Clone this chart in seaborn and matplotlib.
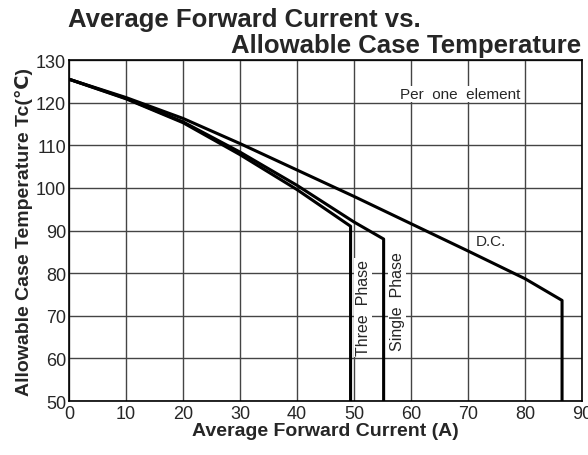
"""Average forward current vs. allowable case temperature derating chart."""

import matplotlib.pyplot as plt
import pandas as pd
import seaborn as sns

# Curve data (current in A, case temperature in degC)
dc_current = [0, 10, 20, 30, 40, 50, 60, 70, 80, 86.5, 86.5]
dc_temp = [125.5, 121.2, 116.3, 110.4, 104.2, 98.0, 91.6, 85.2, 78.7, 73.6, 50]

single_current = [0, 10, 20, 30, 40, 50, 55.2, 55.2]
single_temp = [125.5, 121.0, 115.5, 108.4, 100.6, 92.0, 88.0, 50]

three_current = [0, 10, 20, 30, 40, 49.4, 49.4]
three_temp = [125.5, 120.9, 115.3, 107.8, 99.6, 91.0, 50]

x_ticks = [0, 10, 20, 30, 40, 50, 60, 70, 80, 90]
y_ticks = [50, 60, 70, 80, 90, 100, 110, 120, 130]

sns.set_style("white")
plt.rcParams["font.family"] = ["Liberation Sans", "DejaVu Sans"]


def build_frame() -> pd.DataFrame:
    parts = []
    for name, xs, ys in [
        ("D.C.", dc_current, dc_temp),
        ("Single Phase", single_current, single_temp),
        ("Three Phase", three_current, three_temp),
    ]:
        parts.append(pd.DataFrame({"current": xs, "temp": ys, "curve": name}))
    return pd.concat(parts, ignore_index=True)


def main() -> None:
    df = build_frame()

    fig = plt.figure(figsize=(5.88, 4.56), dpi=100)
    ax = fig.add_axes([0.1173, 0.1184, 0.8725, 0.7478])

    for name, grp in df.groupby("curve", sort=False):
        sns.lineplot(
            data=grp, x="current", y="temp", sort=False, estimator=None,
            color="black", linewidth=2.2, ax=ax, legend=False,
        )

    ax.set_xlim(0, 90)
    ax.set_ylim(50, 130)
    ax.set_xticks(x_ticks)
    ax.set_yticks(y_ticks)
    ax.grid(True, color="#444444", linewidth=1.0)
    ax.set_axisbelow(True)
    for spine in ax.spines.values():
        spine.set_color("black")
        spine.set_linewidth(1.2)
    ax.tick_params(axis="y", length=0, labelsize=13, pad=2)
    ax.tick_params(axis="x", length=0, labelsize=13, pad=3)

    ax.set_xlabel("Average Forward Current (A)", fontsize=14,
                  fontweight="bold", labelpad=0)
    ax.set_ylabel("Allowable Case Temperature Tc(\u2103)", fontsize=14,
                  fontweight="bold", labelpad=2)

    box = dict(facecolor="white", edgecolor="none", pad=1)
    ax.text(68.6, 122.0, "Per  one  element", fontsize=11, ha="center",
            va="center", bbox=box)
    ax.text(74, 87.6, "D.C.", fontsize=11, ha="center", va="center")
    ax.text(51.6, 72, "Three  Phase", fontsize=11.5, rotation=90,
            ha="center", va="center", bbox=box)
    ax.text(57.6, 73.5, "Single  Phase", fontsize=11.5, rotation=90,
            ha="center", va="center", bbox=box)

    fig.text(0.1156, 0.9415, "Average Forward Current vs.", fontsize=18.5,
             fontweight="bold", ha="left", va="baseline")
    fig.text(0.988, 0.8844, "Allowable Case Temperature", fontsize=18.5,
             fontweight="bold", ha="right", va="baseline")

    fig.savefig("out.png", dpi=100)
    plt.close(fig)


if __name__ == "__main__":
    main()
